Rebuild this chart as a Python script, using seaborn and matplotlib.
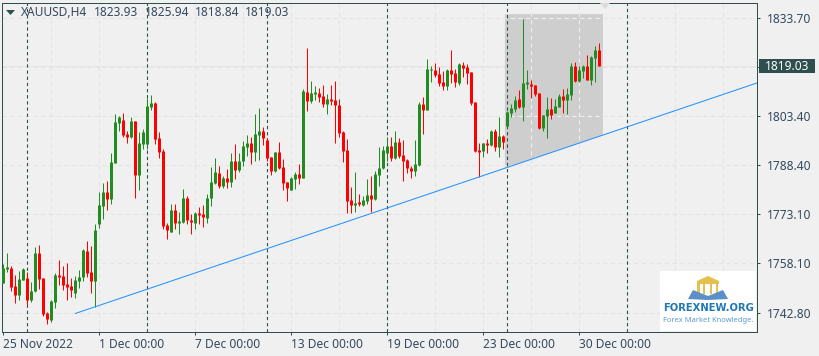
import numpy as np
import pandas as pd
import matplotlib
matplotlib.use('Agg')
import matplotlib.pyplot as plt
from matplotlib.patches import Polygon, Rectangle
import seaborn as sns

# H4 candles
bar_open = [1751.9, 1756.2, 1756.5, 1751.0, 1748.2, 1752.8, 1753.5, 1746.7, 1749.5, 1761.2,
            1753.5, 1742.7, 1740.5, 1746.1, 1754.4, 1754.1, 1751.6, 1751.0, 1748.8, 1752.5,
            1753.8, 1761.8, 1755.3, 1752.5, 1770.1, 1775.7, 1780.0, 1777.8, 1789.0, 1801.3,
            1802.2, 1797.9, 1797.0, 1801.9, 1785.3, 1794.8, 1794.8, 1806.2, 1807.5, 1796.7,
            1792.7, 1769.8, 1767.7, 1774.4, 1770.4, 1770.7, 1778.2, 1771.4, 1770.4, 1773.5,
            1773.2, 1772.0, 1778.2, 1782.8, 1785.9, 1781.9, 1784.3, 1783.1, 1789.6, 1786.8,
            1789.6, 1793.9, 1795.1, 1792.4, 1797.6, 1798.8, 1796.1, 1790.8, 1786.5, 1792.4,
            1787.7, 1783.1, 1780.6, 1784.0, 1785.6, 1784.3, 1810.9, 1808.1, 1810.3, 1810.6,
            1809.6, 1807.2, 1808.7, 1808.4, 1806.9, 1798.5, 1793.0, 1777.5, 1776.0, 1776.9,
            1776.0, 1777.2, 1779.1, 1777.8, 1785.3, 1787.4, 1792.0, 1794.2, 1790.5, 1795.4,
            1791.4, 1789.9, 1787.4, 1786.5, 1788.3, 1807.2, 1805.3, 1817.7, 1817.7, 1816.4,
            1814.0, 1812.7, 1817.7, 1816.7, 1813.7, 1819.2, 1818.6, 1817.0, 1807.8, 1793.0,
            1792.7, 1795.1, 1794.5, 1798.8, 1793.9, 1797.3, 1800.4, 1804.4, 1805.6, 1808.7,
            1806.2, 1813.3, 1813.3, 1813.0, 1810.6, 1799.8, 1803.5, 1805.6, 1804.4, 1806.2,
            1809.6, 1808.4, 1809.9, 1818.9, 1814.3, 1817.4, 1818.9, 1814.6, 1821.4, 1823.93]
bar_high = [1757.8, 1761.2, 1757.2, 1754.4, 1755.6, 1756.5, 1755.3, 1752.2, 1763.0, 1763.6,
            1753.5, 1743.0, 1746.7, 1755.0, 1759.0, 1757.2, 1758.1, 1753.5, 1754.1, 1755.9,
            1762.4, 1764.9, 1763.3, 1770.1, 1780.0, 1782.8, 1783.4, 1792.0, 1804.1, 1803.5,
            1804.4, 1798.8, 1803.2, 1801.9, 1798.5, 1799.4, 1809.0, 1809.9, 1807.8, 1798.5,
            1793.3, 1770.4, 1776.3, 1776.3, 1773.8, 1780.9, 1778.8, 1773.2, 1773.8, 1775.4,
            1776.0, 1779.4, 1787.7, 1790.5, 1788.0, 1784.9, 1787.1, 1792.0, 1794.8, 1792.0,
            1795.7, 1797.6, 1797.0, 1804.1, 1805.9, 1800.1, 1796.7, 1790.8, 1792.4, 1795.4,
            1790.2, 1783.1, 1784.6, 1786.2, 1788.6, 1811.8, 1824.4, 1814.3, 1812.7, 1812.1,
            1813.0, 1810.3, 1813.0, 1814.3, 1808.7, 1798.8, 1796.4, 1781.6, 1786.2, 1779.4,
            1778.8, 1784.0, 1784.9, 1786.5, 1793.9, 1794.2, 1797.0, 1797.0, 1798.8, 1796.7,
            1796.1, 1790.2, 1788.0, 1796.1, 1807.8, 1809.3, 1821.0, 1818.9, 1819.8, 1818.6,
            1817.4, 1818.0, 1823.8, 1818.0, 1819.8, 1820.1, 1819.5, 1817.0, 1807.8, 1795.1,
            1795.1, 1796.4, 1799.1, 1799.4, 1803.2, 1797.6, 1805.0, 1807.2, 1809.6, 1811.5,
            1833.4, 1817.7, 1814.6, 1813.0, 1810.6, 1803.8, 1809.3, 1809.0, 1808.7, 1810.3,
            1811.8, 1812.1, 1819.8, 1820.1, 1818.9, 1819.2, 1822.3, 1822.0, 1825.1, 1825.94]
bar_low = [1751.9, 1755.3, 1749.5, 1745.8, 1746.7, 1752.8, 1745.1, 1746.1, 1749.1, 1750.1,
           1741.7, 1739.3, 1739.9, 1744.2, 1751.3, 1749.8, 1746.7, 1747.6, 1747.3, 1750.4,
           1752.5, 1753.8, 1748.8, 1744.5, 1768.9, 1771.7, 1774.4, 1776.3, 1789.0, 1798.8,
           1797.0, 1795.1, 1796.7, 1778.2, 1780.6, 1793.3, 1793.3, 1805.3, 1794.8, 1790.5,
           1768.6, 1765.5, 1767.7, 1768.6, 1767.0, 1770.4, 1770.1, 1767.0, 1768.6, 1770.1,
           1769.2, 1770.4, 1775.7, 1782.5, 1781.2, 1781.2, 1781.2, 1781.6, 1784.0, 1786.2,
           1788.0, 1791.1, 1788.6, 1789.6, 1789.9, 1794.5, 1789.6, 1785.3, 1786.2, 1787.1,
           1780.6, 1777.2, 1780.6, 1780.9, 1782.5, 1784.3, 1805.0, 1807.5, 1808.4, 1807.8,
           1806.2, 1804.1, 1806.9, 1795.1, 1797.0, 1789.3, 1773.5, 1773.5, 1773.8, 1775.7,
           1775.7, 1776.3, 1773.8, 1777.5, 1781.9, 1787.1, 1789.6, 1789.6, 1790.2, 1790.5,
           1783.4, 1785.9, 1784.3, 1784.9, 1788.0, 1797.9, 1805.3, 1814.0, 1815.5, 1812.7,
           1811.5, 1811.5, 1813.7, 1812.4, 1813.0, 1815.5, 1813.3, 1806.9, 1792.4, 1784.6,
           1790.8, 1792.0, 1794.2, 1792.7, 1790.8, 1793.3, 1800.1, 1803.2, 1804.7, 1805.9,
           1801.9, 1811.8, 1809.0, 1809.6, 1799.4, 1798.8, 1796.7, 1802.5, 1804.4, 1806.2,
           1804.4, 1804.1, 1808.4, 1814.0, 1814.0, 1815.2, 1814.6, 1813.0, 1814.0, 1818.84]
bar_close = [1756.5, 1756.9, 1750.7, 1748.2, 1753.2, 1756.2, 1746.7, 1749.5, 1761.2, 1753.2,
             1742.4, 1740.8, 1746.4, 1754.4, 1753.8, 1751.3, 1750.7, 1749.8, 1752.8, 1753.8,
             1762.1, 1755.0, 1752.5, 1768.3, 1776.0, 1780.0, 1777.8, 1789.3, 1801.6, 1803.2,
             1797.6, 1797.0, 1801.9, 1785.3, 1795.1, 1798.5, 1806.5, 1807.5, 1796.4, 1792.4,
             1769.5, 1768.3, 1774.4, 1770.4, 1771.0, 1778.2, 1771.4, 1770.7, 1773.5, 1772.9,
             1772.3, 1778.2, 1783.1, 1786.2, 1781.9, 1784.3, 1783.1, 1789.6, 1786.8, 1789.6,
             1794.2, 1795.1, 1792.4, 1797.9, 1798.8, 1796.7, 1790.5, 1786.5, 1792.4, 1787.4,
             1782.8, 1781.2, 1784.3, 1785.6, 1784.3, 1811.2, 1808.1, 1810.6, 1810.9, 1809.3,
             1807.2, 1808.7, 1808.1, 1806.9, 1798.2, 1792.7, 1777.2, 1776.0, 1776.6, 1776.3,
             1777.5, 1779.1, 1777.8, 1785.6, 1787.4, 1793.0, 1794.2, 1790.5, 1795.4, 1791.1,
             1789.6, 1787.4, 1786.5, 1788.6, 1807.2, 1805.3, 1818.0, 1818.0, 1816.1, 1813.7,
             1812.7, 1817.7, 1816.4, 1814.0, 1819.5, 1818.3, 1816.7, 1807.5, 1792.7, 1792.4,
             1795.1, 1794.5, 1798.8, 1793.9, 1797.3, 1795.4, 1804.7, 1805.9, 1808.4, 1806.2,
             1813.7, 1814.0, 1812.7, 1810.3, 1799.8, 1803.8, 1805.6, 1803.8, 1806.5, 1809.6,
             1808.4, 1810.3, 1818.9, 1814.3, 1817.7, 1818.9, 1814.6, 1821.7, 1823.8, 1819.03]

y_ticks = [1742.8, 1758.1, 1773.1, 1788.4, 1803.4, 1818.6, 1833.7]
y_labels = ['1742.80', '1758.10', '1773.10', '1788.40', '1803.40', '', '1833.70']
date_bars = [0, 24, 48, 72, 96, 120, 144]
date_labels = ['25 Nov 2022', '1 Dec 00:00', '7 Dec 00:00', '13 Dec 00:00',
               '19 Dec 00:00', '23 Dec 00:00', '30 Dec 00:00']
sep_bars = [6, 36, 66, 96, 126, 156]
grid_bars = [12, 24, 36, 48, 60, 72, 84, 96, 108, 120, 132, 144, 156, 168, 180]
trend_bars = [18.0, 188.55]
trend_price = [1742.5, 1813.7]
channel_bars = [125.4, 125.4, 149.9, 149.9]
channel_price = [1834.9, 1787.4, 1797.6, 1834.9]
last_price = 1819.03
head_values = ['1823.93', '1825.94', '1818.84', '1819.03']

BG = '#f0f0f0'
DARK = '#2f4f4f'
TXT = '#34495e'
GRID = '#e4e4e4'
W, H = 820, 356
PX = 0.72  # 1 px in points at dpi 100
DASH = (0, (4, 3))

sns.set_theme(style='white', rc={'axes.facecolor': BG, 'figure.facecolor': BG})
plt.rcParams['font.family'] = ['Noto Sans', 'DejaVu Sans']

# table of candles
df = pd.DataFrame({'bar': np.arange(len(bar_open)), 'open': bar_open, 'high': bar_high,
                   'low': bar_low, 'close': bar_close})
df['side'] = np.where(df['close'] >= df['open'], 'up', 'down')
df['top'] = df[['open', 'close']].max(axis=1)
df['bottom'] = df[['open', 'close']].min(axis=1)
wicks = df.melt(id_vars=['bar', 'side'], value_vars=['low', 'high'], value_name='price')
bodies = df.melt(id_vars=['bar', 'side'], value_vars=['bottom', 'top'], value_name='price')
palette = {'up': '#228b22', 'down': '#ff0000'}

fig = plt.figure(figsize=(W / 100, H / 100), dpi=100)
ax = fig.add_axes([2.5 / W, (H - 331.5) / H, 755 / W, 329 / H])
ax.set_xlim(-0.2, 188.55)
ax.set_ylim(1736.94, 1838.48)

# grid under the grey channel
for p in y_ticks:
    ax.axhline(p, color=GRID, lw=1.1 * PX, ls=DASH, zorder=0.5)
for b in grid_bars:
    ax.axvline(b, color=GRID, lw=1.1 * PX, ls=DASH, zorder=0.5)
ax.axhline(last_price, color=GRID, lw=PX, zorder=0.5)
channel = ax.fill(channel_bars, channel_price, color='#cecece', lw=0, zorder=1)[0]
# the same grid looks light where it crosses the channel
for p in y_ticks:
    if p != 1818.6:
        ax.axhline(p, color='#efefef', lw=1.1 * PX, ls=DASH, zorder=1.5).set_clip_path(channel)
for b in grid_bars:
    ax.axvline(b, color='#efefef', lw=1.1 * PX, ls=DASH, zorder=1.5).set_clip_path(channel)
for b in sep_bars:
    ax.axvline(b, color=DARK, lw=PX * 1.1, ls=(0, (3, 2.6)), zorder=2)

sns.lineplot(data=wicks, x='bar', y='price', hue='side', units='bar', estimator=None,
             palette=palette, linewidth=PX, legend=False, ax=ax, zorder=3,
             solid_capstyle='butt', sort=False)
sns.lineplot(data=bodies, x='bar', y='price', hue='side', units='bar', estimator=None,
             palette=palette, linewidth=3 * PX, legend=False, ax=ax, zorder=3.1,
             solid_capstyle='butt', sort=False)
sns.lineplot(x=trend_bars, y=trend_price, color='#1e90ff', linewidth=PX, ax=ax, zorder=4)

ax.set_xlabel('')
ax.set_ylabel('')
ax.set_xticks(date_bars)
ax.set_xticklabels(date_labels, ha='left', fontsize=8.6, color=TXT)
ax.set_yticks(y_ticks)
ax.set_yticklabels(y_labels, fontsize=8.6, color=TXT)
ax.yaxis.tick_right()
ax.tick_params(axis='x', length=2, width=PX, color=DARK, pad=2.5, bottom=True)
ax.tick_params(axis='y', length=2.5, width=PX, color=DARK, pad=4.5, right=True)
for s in ax.spines.values():
    s.set_color(DARK)
    s.set_linewidth(PX)

# overlay in pixels for the non data furniture
over = fig.add_axes([0, 0, 1, 1], zorder=5)
over.set_xlim(0, W)
over.set_ylim(H, 0)
over.axis('off')
over.add_patch(Polygon([(6, 10), (15, 10), (10.5, 15)], color=DARK, lw=0))
over.add_patch(Polygon([(600, 3), (610, 3), (605, 9)], color='#dcdcdc', lw=0))
over.text(21, 12, 'XAUUSD,H4', fontsize=8.6, color=TXT, va='center')
for x0, val in zip([94.3, 144.5, 194.5, 244.5], head_values):
    over.text(x0, 12, val, fontsize=8.6, color=TXT, va='center')

# last price box
over.add_patch(Rectangle((759, 59), 56, 14, color=DARK, lw=0))
over.text(765, 66, '1819.03', fontsize=8.6, color='white', va='center')

# logo
over.add_patch(Rectangle((660, 271), 96.5, 60, color='white', lw=0))
over.add_patch(Polygon([(697, 281), (708, 276), (719, 281)], color='#e6c04e', lw=0))
over.add_patch(Rectangle((697, 281), 22, 2.5, color='#e6c04e', lw=0))
for cx in [698.5, 704, 711, 717]:
    over.add_patch(Rectangle((cx - 1.3, 284), 2.8, 10, color='#e6c04e', lw=0))
over.add_patch(Polygon([(688, 299), (693, 290), (708, 296), (723, 290), (728, 299), (708, 300)],
                       color='#5b8fc7', lw=0))
over.text(708.5, 308, 'FOREXNEW.ORG', fontsize=7.2, fontweight='bold', color='#1f78b4',
          ha='center', va='center', family='DejaVu Sans')
over.text(708.5, 320, 'Forex Market Knowledge.', fontsize=5.4, color='#5b9bd0',
          ha='center', va='center')

fig.savefig('out.png', dpi=100)
